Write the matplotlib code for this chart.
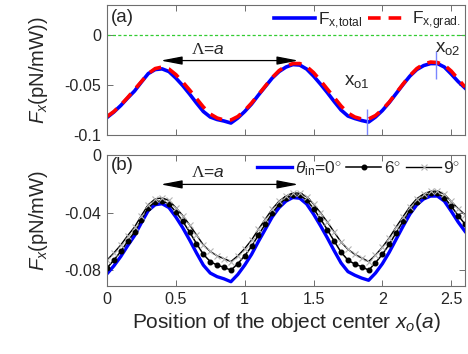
import numpy as np
import matplotlib
matplotlib.use("Agg")
import matplotlib.pyplot as plt

plt.rcParams['font.family'] = ['Liberation Sans', 'DejaVu Sans']
plt.rcParams['mathtext.fontset'] = 'custom'
plt.rcParams['mathtext.rm'] = 'Liberation Serif'
plt.rcParams['mathtext.it'] = 'Liberation Sans:italic'
plt.rcParams['mathtext.bf'] = 'Liberation Sans:bold'

# sampling positions x_o (in units of a)
x_pos = np.round(np.arange(0, 2.6001, 0.05), 2)

# panel (a): total force and gradient force (also theta_in = 0 in panel b)
f_total = [-0.0825, -0.0770, -0.0705, -0.0630, -0.0560, -0.0470, -0.0385, -0.0345, -0.0338, -0.0365,
           -0.0430, -0.0505, -0.0590, -0.0680, -0.0765, -0.0820, -0.0845, -0.0860, -0.0880, -0.0830,
           -0.0765, -0.0690, -0.0600, -0.0515, -0.0430, -0.0365, -0.0320, -0.0295, -0.0300, -0.0340,
           -0.0410, -0.0490, -0.0575, -0.0665, -0.0750, -0.0810, -0.0835, -0.0855, -0.0870, -0.0820,
           -0.0755, -0.0675, -0.0585, -0.0495, -0.0410, -0.0345, -0.0305, -0.0285, -0.0285, -0.0320,
           -0.0390, -0.0465, -0.0530]
f_grad = [-0.0815, -0.0765, -0.0700, -0.0625, -0.0545, -0.0465, -0.0385, -0.0335, -0.0320, -0.0340,
          -0.0395, -0.0470, -0.0550, -0.0635, -0.0720, -0.0790, -0.0830, -0.0850, -0.0850, -0.0815,
          -0.0755, -0.0680, -0.0595, -0.0510, -0.0425, -0.0355, -0.0310, -0.0285, -0.0285, -0.0315,
          -0.0375, -0.0455, -0.0540, -0.0625, -0.0710, -0.0780, -0.0820, -0.0840, -0.0840, -0.0805,
          -0.0745, -0.0670, -0.0580, -0.0490, -0.0405, -0.0335, -0.0290, -0.0270, -0.0275, -0.0300,
          -0.0360, -0.0440, -0.0520]
# panel (b): incidence angles 6 and 9 degrees
f_6deg = [-0.0785, -0.0730, -0.0670, -0.0600, -0.0535, -0.0448, -0.0365, -0.0325, -0.0318, -0.0340,
          -0.0395, -0.0460, -0.0535, -0.0615, -0.0690, -0.0740, -0.0765, -0.0780, -0.0800, -0.0755,
          -0.0700, -0.0635, -0.0555, -0.0480, -0.0402, -0.0343, -0.0300, -0.0277, -0.0280, -0.0312,
          -0.0372, -0.0443, -0.0518, -0.0598, -0.0675, -0.0730, -0.0758, -0.0775, -0.0800, -0.0748,
          -0.0690, -0.0620, -0.0540, -0.0460, -0.0382, -0.0323, -0.0285, -0.0267, -0.0267, -0.0295,
          -0.0355, -0.0420, -0.0480]
f_9deg = [-0.0730, -0.0680, -0.0625, -0.0560, -0.0500, -0.0420, -0.0345, -0.0305, -0.0298, -0.0315,
          -0.0365, -0.0420, -0.0485, -0.0555, -0.0625, -0.0670, -0.0700, -0.0720, -0.0740, -0.0700,
          -0.0650, -0.0590, -0.0515, -0.0445, -0.0375, -0.0320, -0.0285, -0.0263, -0.0265, -0.0290,
          -0.0340, -0.0400, -0.0465, -0.0535, -0.0605, -0.0655, -0.0690, -0.0715, -0.0740, -0.0695,
          -0.0640, -0.0575, -0.0500, -0.0428, -0.0358, -0.0303, -0.0270, -0.0252, -0.0250, -0.0272,
          -0.0322, -0.0372, -0.0414]

# marked positions x_o1, x_o2
mark_x = [1.89, 2.39]
mark_y = [-0.0875, -0.0300]

yticks_a = [-0.1, -0.05, 0]
yticklabels_a = ['-0.1', '-0.05', '0']
yticks_b = [-0.08, -0.04, 0]
yticklabels_b = ['-0.08', '-0.04', '0']
xticks = [0, 0.5, 1, 1.5, 2, 2.5]
xticklabels = ['0', '0.5', '1', '1.5', '2', '2.5']

frame_c = '#6e6e6e'
text_c = '#262626'

fig = plt.figure(figsize=(4.68, 3.54), dpi=100)
ax_a = fig.add_axes([0.2286, 0.6186, 0.765, 0.367])
ax_b = fig.add_axes([0.2286, 0.192, 0.765, 0.370])

for ax in (ax_a, ax_b):
    for s in ax.spines.values():
        s.set_color(frame_c)
        s.set_linewidth(0.8)
    ax.tick_params(direction='in', top=True, right=True, length=4, width=0.7,
                   color=frame_c, labelcolor=text_c, labelsize=11.6, pad=4)
    ax.set_xlim(0, 2.6)
    ax.set_xticks(xticks)

# ---- panel (a)
ax_a.axhline(0, color='#33cc33', lw=0.9, ls=(0, (2.5, 1.8)))
ax_a.plot(x_pos, f_total, color='#0000ff', lw=2.6, label=r'F$_{\mathregular{x{,}total}}$')
ax_a.plot(x_pos, f_grad, color='#ff0000', lw=2.6, dashes=(3.5, 2.2), label=r'F$_{\mathregular{x{,}grad.}}$')
ax_a.plot(mark_x, mark_y, ls='none', marker='|', markersize=20, markeredgewidth=1.0, color='#7a86ff')
ax_a.set_ylim(-0.1, 0.03)
ax_a.set_yticks(yticks_a)
ax_a.set_yticklabels(yticklabels_a)
ax_a.set_xticklabels([])
ax_a.set_ylabel(r'$F_x$(pN/mW))', fontsize=14.5, color=text_c)
ax_a.yaxis.set_label_coords(-0.158, 0.5)
ax_a.text(0.01, 0.97, '(a)', transform=ax_a.transAxes, ha='left', va='top', fontsize=13.5, color=text_c)
ax_a.annotate('', xy=(0.39, -0.0255), xytext=(1.39, -0.0255),
              arrowprops=dict(arrowstyle='<|-|>,head_length=1.3,head_width=0.25', color='black', lw=0.9,
                              shrinkA=0, shrinkB=0, mutation_scale=10))
ax_a.text(0.73, -0.022, r'$\Lambda$=$a$', ha='center', va='bottom', fontsize=12.5, color=text_c)
ax_a.text(1.72, -0.05, r'x$_{\mathregular{o1}}$', ha='left', va='baseline', fontsize=13.5, color=text_c)
ax_a.text(2.38, -0.017, r'x$_{\mathregular{o2}}$', ha='left', va='baseline', fontsize=13.5, color=text_c)
leg_a = ax_a.legend(loc='upper right', ncol=2, frameon=False, fontsize=12.5, handlelength=2.4,
                    handletextpad=0.15, columnspacing=0.3, borderaxespad=0.05, borderpad=0.2)
for t in leg_a.get_texts():
    t.set_color(text_c)

# ---- panel (b)
ax_b.plot(x_pos, f_total, color='#0000ff', lw=2.4, label=r'$\theta_{\mathregular{in}}$=0$^{\circ}$')
ax_b.plot(x_pos, f_6deg, color='black', lw=1.1, marker='o', markersize=3.3, label=r'6$^{\circ}$')
ax_b.plot(x_pos, f_9deg, color='black', lw=1.0, marker='x', markersize=4, markeredgewidth=0.8,
          markeredgecolor='#b5b5b5', label=r'9$^{\circ}$')
ax_b.set_ylim(-0.091, 0)
ax_b.set_yticks(yticks_b)
ax_b.set_yticklabels(yticklabels_b)
ax_b.set_xticklabels(xticklabels)
ax_b.set_ylabel(r'$F_x$(pN/mW)', fontsize=14.5, color=text_c)
ax_b.yaxis.set_label_coords(-0.158, 0.5)
ax_b.set_xlabel(r'Position of the object center $x_o$($a$)', fontsize=15, color=text_c, labelpad=3)
ax_b.text(0.01, 0.985, '(b)', transform=ax_b.transAxes, ha='left', va='top', fontsize=13.5, color=text_c)
ax_b.annotate('', xy=(0.39, -0.0204), xytext=(1.39, -0.0204),
              arrowprops=dict(arrowstyle='<|-|>,head_length=1.3,head_width=0.25', color='black', lw=0.9,
                              shrinkA=0, shrinkB=0, mutation_scale=10))
ax_b.text(0.73, -0.0175, r'$\Lambda$=$a$', ha='center', va='bottom', fontsize=12.5, color=text_c)
leg_b = ax_b.legend(loc='upper right', ncol=3, frameon=False, fontsize=12.5, handlelength=2.0,
                    handletextpad=0.15, columnspacing=0.3, borderaxespad=0.05, borderpad=0.2)
for t in leg_b.get_texts():
    t.set_color(text_c)

fig.savefig('out.png', dpi=100)
